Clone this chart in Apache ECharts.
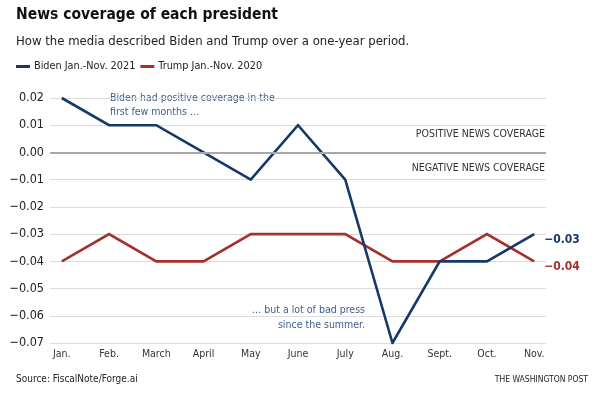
<!DOCTYPE html>
<html>
<head>
<meta charset="utf-8">
<script src="https://cdn.jsdelivr.net/npm/echarts@6/dist/echarts.min.js"></script>
<style>
  html, body { margin: 0; padding: 0; background: #fff; }
  #chart { width: 600px; height: 398px; }
</style>
</head>
<body>
<div id="chart"></div>
<script>
// Monthly net news-coverage scores
const months = ['Jan.', 'Feb.', 'March', 'April', 'May', 'June', 'July', 'Aug.', 'Sept.', 'Oct.', 'Nov.'];
const biden2021 = [0.02, 0.01, 0.01, 0.00, -0.01, 0.01, -0.01, -0.07, -0.04, -0.04, -0.03];
const trump2020 = [-0.04, -0.03, -0.04, -0.04, -0.03, -0.03, -0.03, -0.04, -0.04, -0.03, -0.04];

const FONT = '"DejaVu Sans Condensed", "Roboto", sans-serif';
const NAVY = '#15386b';
const RED = '#a3322a';
const NOTE = '#3b5f8c';

const fmt = v => {
    if (Math.abs(v) < 1e-9) return '0.00';
    return v.toFixed(2).replace('-', '\u2212');
};

const chart = echarts.init(document.getElementById('chart'));
chart.setOption({
    backgroundColor: '#fff',
    animation: false,
    textStyle: { fontFamily: FONT },
    title: [
        { text: 'News coverage of each president', left: 16, top: 7, padding: 0,
          textStyle: { fontSize: 15.5, fontWeight: 'bold', color: '#111', fontFamily: FONT } },
        { text: 'How the media described Biden and Trump over a one-year period.', left: 16, top: 35, padding: 0,
          textStyle: { fontSize: 13, fontWeight: 'normal', color: '#222', fontFamily: FONT } },
    ],
    legend: {
        left: 16, top: 61, padding: 0,
        icon: 'rect', itemWidth: 14, itemHeight: 3, itemGap: 5,
        textStyle: { fontSize: 10.8, color: '#222', fontFamily: FONT, padding: [0, 0, 0, -1] },
        data: ['Biden Jan.-Nov. 2021', 'Trump Jan.-Nov. 2020'],
    },
    grid: { left: 50, right: 54, top: 98, bottom: 55, containLabel: false },
    xAxis: {
        type: 'value',
        min: -0.25, max: 10.25,
        axisLine: { show: false },
        axisTick: { show: false },
        splitLine: { show: false },
        axisLabel: {
            customValues: months.map((m, i) => i),
            formatter: v => months[Math.round(v)],
            color: '#333', fontSize: 10.5, margin: 6, fontFamily: FONT,
        },
    },
    yAxis: {
        type: 'value',
        min: -0.07, max: 0.02, interval: 0.01,
        axisLine: { show: false },
        axisTick: { show: false },
        axisLabel: { formatter: fmt, color: '#222', fontSize: 12.5, margin: 6, fontFamily: FONT },
        splitLine: { lineStyle: { color: '#dcdcdc', width: 1 } },
    },
    series: [
        {
            name: 'Biden Jan.-Nov. 2021',
            type: 'line',
            data: biden2021.map((v, i) => [i, v]),
            symbol: 'none',
            z: 4,
            lineStyle: { color: NAVY, width: 2.6, join: 'miter' },
            itemStyle: { color: NAVY },
            endLabel: {
                show: true, distance: 10,
                formatter: p => fmt(p.value[1]),
                color: NAVY, fontWeight: 'bold', fontSize: 12, fontFamily: FONT,
                offset: [0, 6],
            },
            markLine: {
                silent: true, symbol: 'none', label: { show: false },
                lineStyle: { color: '#a8a8a8', width: 2, type: 'solid' },
                data: [{ yAxis: 0 }],
            },
        },
        {
            name: 'Trump Jan.-Nov. 2020',
            type: 'line',
            data: trump2020.map((v, i) => [i, v]),
            symbol: 'none',
            z: 3,
            lineStyle: { color: RED, width: 2.6, join: 'miter' },
            itemStyle: { color: RED },
            endLabel: {
                show: true, distance: 10,
                formatter: p => fmt(p.value[1]),
                color: RED, fontWeight: 'bold', fontSize: 12, fontFamily: FONT,
                offset: [0, 6],
            },
        },
    ],
    graphic: [
        { type: 'text', left: 110, top: 91,
          style: { text: 'Biden had positive coverage in the\nfirst few months \u2026', fill: NOTE,
                   font: '10.5px ' + FONT, lineHeight: 14 } },
        { type: 'text', right: 235, top: 305,
          style: { text: '\u2026 but a lot of bad press', fill: NOTE, font: '10.5px ' + FONT } },
        { type: 'text', right: 235, top: 320,
          style: { text: 'since the summer.', fill: NOTE, font: '10.5px ' + FONT } },
        { type: 'text', right: 55, top: 129,
          style: { text: 'POSITIVE NEWS COVERAGE', fill: '#333', font: '10.5px ' + FONT } },
        { type: 'text', right: 55, top: 163,
          style: { text: 'NEGATIVE NEWS COVERAGE', fill: '#333', font: '10.5px ' + FONT } },
        { type: 'text', left: 16, top: 374,
          style: { text: 'Source: FiscalNote/Forge.ai', fill: '#222', font: '10px ' + FONT } },
        { type: 'text', right: 12, top: 375,
          style: { text: 'THE WASHINGTON POST', fill: '#222', font: '8.5px ' + FONT } },
    ],
});
</script>
</body>
</html>
